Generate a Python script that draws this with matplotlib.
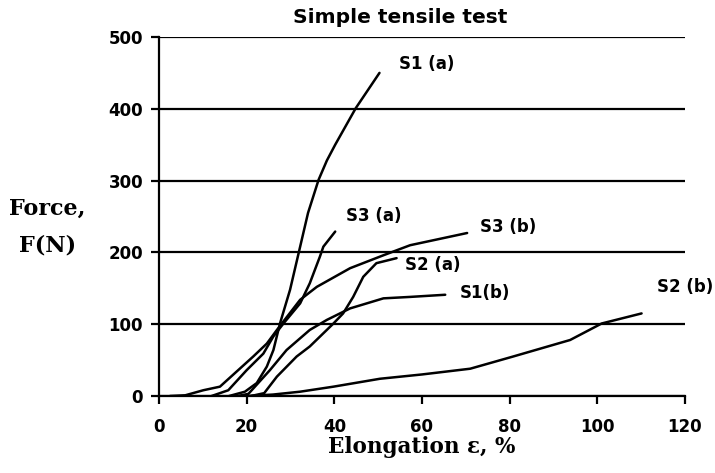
import matplotlib.pyplot as plt

# curve data (elongation %, force N)
s1a_x = [16, 19.6, 22.3, 24.6, 26.1, 27.6, 29.9, 32.2, 34, 36.4, 38.3, 40.2, 44.9, 50.3]
s1a_y = [0, 6, 18, 41, 64, 101, 148, 208, 255, 301, 328, 350, 401, 450]

s3a_x = [12, 15.8, 20, 23.8, 26.1, 28.4, 32.2, 34.4, 36.7, 37.5, 40.2]
s3a_y = [0, 8, 36, 59, 83, 101, 129, 157, 194, 208, 229]

s3b_x = [2.5, 6, 10.1, 13.9, 17.7, 21.5, 24.6, 26.9, 28.4, 32.2, 36, 43.6, 51.2, 57.3, 70.3]
s3b_y = [0, 1, 8, 13, 34, 55, 73, 92, 104, 134, 152, 178, 196, 210, 227]

s2a_x = [21, 24, 26.9, 31.4, 34.4, 39.8, 42, 44.3, 46.6, 49.6, 54.2]
s2a_y = [0, 4, 27, 55, 69, 101, 115, 138, 166, 185, 192]

s1b_x = [18, 20.4, 25.3, 29.1, 34.4, 38.3, 43.6, 51.2, 57.3, 65.3]
s1b_y = [0, 3, 36, 64, 92, 106, 122, 136, 138, 141]

s2b_x = [20, 26, 32.2, 39.8, 50.4, 60, 71, 80.8, 93.8, 101, 110.1]
s2b_y = [0, 2, 6, 13, 24, 30, 38, 55, 78, 101, 115]

curves = [(s1a_x, s1a_y), (s3a_x, s3a_y), (s3b_x, s3b_y),
          (s2a_x, s2a_y), (s1b_x, s1b_y), (s2b_x, s2b_y)]

labels = ['S1 (a)', 'S3 (a)', 'S3 (b)', 'S2 (a)', 'S1(b)', 'S2 (b)']
label_x = [61, 49, 79.7, 62.5, 74.3, 120]
label_y = [463, 250, 236, 183, 143, 152]

sans = 'DejaVu Sans'
serif = 'DejaVu Serif'

fig = plt.figure(figsize=(7.15, 4.73), dpi=100)
ax = fig.add_axes([0.2224, 0.1628, 0.7356, 0.759])

for xs, ys in curves:
    ax.plot(xs, ys, color='black', linewidth=1.8,
            solid_capstyle='round', solid_joinstyle='round')

for lab, lx, ly in zip(labels, label_x, label_y):
    ax.text(lx, ly, lab, fontsize=12, fontweight='bold', family=sans,
            ha='center', va='center')

ax.set_xlim(0, 120)
ax.set_ylim(0, 500)
ax.set_xticks(range(0, 121, 20))
ax.set_yticks(range(0, 501, 100))
ax.yaxis.grid(True, color='black', linewidth=1.6)
ax.set_axisbelow(True)

for side in ['top', 'right']:
    ax.spines[side].set_visible(False)
for side in ['left', 'bottom']:
    ax.spines[side].set_linewidth(1.6)

ax.tick_params(axis='both', direction='out', length=5.5, width=1.6, labelsize=12)
for t in ax.get_xticklabels() + ax.get_yticklabels():
    t.set_fontweight('bold')
    t.set_family(sans)
ax.tick_params(axis='x', pad=10)
ax.tick_params(axis='y', pad=6)

ax.set_title('Simple tensile test', fontsize=14.5, fontweight='bold',
             family=sans, pad=10, x=0.458)
ax.set_xlabel('Elongation ε, %', fontsize=15.5, fontweight='bold',
              family=serif, labelpad=0)
fig.text(0.066, 0.52, 'Force,\nF(N)', fontsize=16, fontweight='bold',
         family=serif, ha='center', va='center', linespacing=1.85)

fig.savefig('out.png', dpi=100)
